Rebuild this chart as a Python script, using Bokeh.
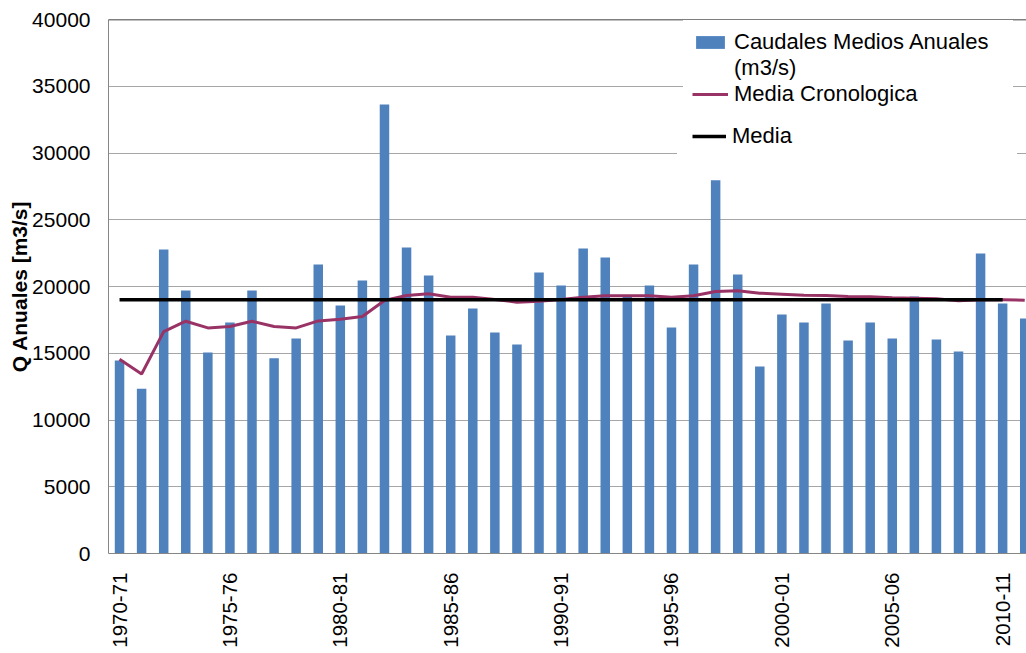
import math
from bokeh.plotting import figure
from bokeh.models import Range1d, FixedTicker, Span, Legend, LegendItem
from bokeh.embed import file_html
from bokeh.resources import INLINE

seasons = ["1970-71", "1971-72", "1972-73", "1973-74", "1974-75", "1975-76", "1976-77",
           "1977-78", "1978-79", "1979-80", "1980-81", "1981-82", "1982-83", "1983-84",
           "1984-85", "1985-86", "1986-87", "1987-88", "1988-89", "1989-90", "1990-91",
           "1991-92", "1992-93", "1993-94", "1994-95", "1995-96", "1996-97", "1997-98",
           "1998-99", "1999-00", "2000-01", "2001-02", "2002-03", "2003-04", "2004-05",
           "2005-06", "2006-07", "2007-08", "2008-09", "2009-10", "2010-11", "2011-12"]

caudales = [14450, 12350, 22770, 19700, 15050, 17300, 19700, 14620, 16100, 21650,
            18575, 20450, 33640, 22925, 20825, 16325, 18350, 16550, 15650, 21050,
            20075, 22850, 22175, 19300, 20075, 16925, 21650, 27950, 20900, 14000,
            17900, 17300, 18725, 15950, 17300, 16100, 19250, 16025, 15125, 22475,
            18725, 17600]

media_cronologica = [14550, 13450, 16620, 17400, 16900, 17000, 17400, 17000, 16900, 17420,
                     17550, 17750, 18950, 19325, 19450, 19200, 19200, 19025, 18825, 18900,
                     19025, 19200, 19300, 19300, 19300, 19200, 19300, 19625, 19675, 19500,
                     19425, 19350, 19325, 19250, 19225, 19150, 19125, 19075, 18925, 19000,
                     19000, 18975]

media_valor = 19000
media_n = 41
media = [media_valor] * media_n

y_ticks = [0, 5000, 10000, 15000, 20000, 25000, 30000, 35000, 40000]
x_tick_idx = [0, 5, 10, 15, 20, 25, 30, 35, 40]

FONT = "Liberation Sans"

x_idx = list(range(len(seasons)))

p = figure(width=1026, height=653, output_backend="svg", toolbar_location=None,
           x_range=Range1d(-0.5, 41.08), y_range=Range1d(y_ticks[0], y_ticks[-1]),
           min_border_left=108, min_border_right=0, min_border_top=19,
           min_border_bottom=100)
p.outline_line_color = None
p.background_fill_color = "white"
p.border_fill_color = "white"

bars = p.vbar(x=x_idx, top=caudales, width=0.43, fill_color="#4F81BD", line_color=None)
lc = p.line(x_idx, media_cronologica, line_color="#993366", line_width=3)
lm = p.line(x_idx[:media_n], media, line_color="black", line_width=3.5)

# axes
p.xgrid.visible = False
p.ygrid.ticker = FixedTicker(ticks=y_ticks)
p.ygrid.grid_line_color = "#A6A6A6"
p.ygrid.grid_line_width = 1

p.yaxis.ticker = FixedTicker(ticks=y_ticks)
p.yaxis.axis_line_color = "#868686"
p.yaxis.major_tick_line_color = None
p.yaxis.minor_tick_line_color = None
p.yaxis.major_tick_out = 0
p.yaxis.major_tick_in = 0
p.yaxis.major_label_standoff = 18
p.yaxis.major_label_text_font = FONT
p.yaxis.major_label_text_font_size = "21px"
p.yaxis.major_label_text_color = "black"
p.yaxis.axis_label = "Q Anuales [m3/s]"
p.yaxis.axis_label_text_font = FONT
p.yaxis.axis_label_text_font_size = "21px"
p.yaxis.axis_label_text_font_style = "bold"
p.yaxis.axis_label_text_color = "black"
p.yaxis.axis_label_standoff = -2

p.xaxis.ticker = FixedTicker(ticks=x_tick_idx)
p.xaxis.major_label_overrides = {i: seasons[i] for i in x_tick_idx}
p.xaxis.major_label_orientation = math.pi / 2
p.xaxis.axis_line_color = "#868686"
p.xaxis.major_tick_line_color = None
p.xaxis.minor_tick_line_color = None
p.xaxis.major_tick_out = 0
p.xaxis.major_tick_in = 0
p.xaxis.major_label_standoff = 19
p.xaxis.major_label_text_font = FONT
p.xaxis.major_label_text_font_size = "20.5px"
p.xaxis.major_label_text_color = "black"

leg1 = Legend(items=[LegendItem(label="Caudales Medios Anuales", renderers=[bars]),
                     LegendItem(label="(m3/s)", renderers=[]),
                     LegendItem(label="Media Cronologica", renderers=[lc])],
              location=(575, 437), glyph_width=36, glyph_height=16, padding=8)
leg2 = Legend(items=[LegendItem(label="Media", renderers=[lm])],
              location=(569, 389), glyph_width=34, glyph_height=16, padding=14)
for leg in (leg1, leg2):
    leg.label_standoff = 6
    leg.label_text_font = FONT
    leg.label_text_font_size = "22px"
    leg.label_text_color = "black"
    leg.spacing = 0
    leg.margin = 0
    leg.border_line_color = "white"
    leg.border_line_width = 1
    leg.background_fill_color = "white"
    leg.background_fill_alpha = 1.0
    leg.label_width = 270
    p.add_layout(leg)

top_line = Span(location=y_ticks[-1], dimension="width", line_color="black",
                line_width=1.5, level="overlay")
p.add_layout(top_line)

open("out.html", "w").write(file_html(p, INLINE))
